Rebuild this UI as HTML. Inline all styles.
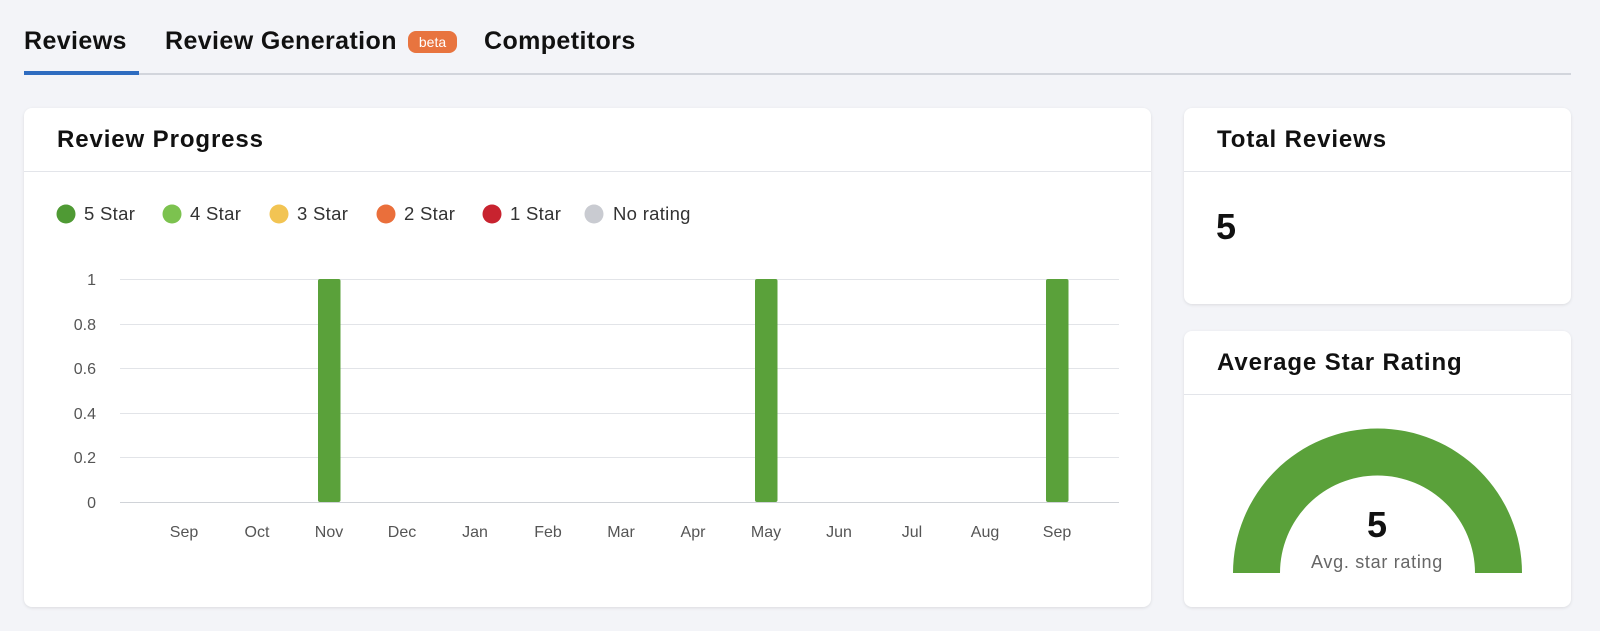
<!DOCTYPE html>
<html><head><meta charset="utf-8"><style>
*{margin:0;padding:0;box-sizing:border-box}
body{width:1600px;height:631px;background:#f3f4f8;font-family:"Liberation Sans",Arial,sans-serif;color:#111;position:relative;overflow:hidden}
.a{position:absolute}
.tab{font-size:25px;font-weight:600;top:27px;letter-spacing:0.4px}
.card{position:absolute;background:#fff;border-radius:8px;box-shadow:0 1px 3px rgba(0,0,0,0.1)}
.hl{position:absolute;left:0;right:0;height:1px;background:#e3e5ea}
.ttl{position:absolute;left:33px;font-size:24px;font-weight:700;letter-spacing:0.9px}
</style></head><body>
<div class="a tab" style="left:24px">Reviews</div>
<div class="a tab" style="left:165px">Review Generation</div>
<div class="a" style="left:408px;top:31px;width:49px;height:22px;border-radius:8px;background:#e8743f;color:#fff;font-size:14px;text-align:center;line-height:22px">beta</div>
<div class="a tab" style="left:484px">Competitors</div>
<div class="a" style="left:24px;top:73px;width:1547px;height:2px;background:#d2d5dc"></div>
<div class="a" style="left:24px;top:71px;width:115px;height:4px;background:#2e6cc0"></div>

<div class="card" style="left:24px;top:108px;width:1127px;height:499px">
<div class="ttl" style="top:18px">Review Progress</div>
<div class="hl" style="top:63px"></div>
</div>
<svg class="a" style="left:0;top:0" width="1600" height="631">
<g font-size="18.5" fill="#333" font-family="Liberation Sans,Arial,sans-serif" letter-spacing="0.3">
<circle cx="66" cy="214" r="9.5" fill="#4f9a34"/><text x="84" y="220">5 Star</text>
<circle cx="172" cy="214" r="9.5" fill="#7cc24f"/><text x="190" y="220">4 Star</text>
<circle cx="279" cy="214" r="9.5" fill="#f2c453"/><text x="297" y="220">3 Star</text>
<circle cx="386" cy="214" r="9.5" fill="#ea6f3b"/><text x="404" y="220">2 Star</text>
<circle cx="492" cy="214" r="9.5" fill="#c8232f"/><text x="510" y="220">1 Star</text>
<circle cx="594" cy="214" r="9.5" fill="#c9cbd1"/><text x="613" y="220">No rating</text>
</g>
<g stroke="#e2e4e8" stroke-width="1">
<line x1="120" x2="1119" y1="279.5" y2="279.5"/><line x1="120" x2="1119" y1="324.5" y2="324.5"/>
<line x1="120" x2="1119" y1="368.5" y2="368.5"/><line x1="120" x2="1119" y1="413.5" y2="413.5"/>
<line x1="120" x2="1119" y1="457.5" y2="457.5"/><line x1="120" x2="1119" y1="502.5" y2="502.5" stroke="#d0d3d8"/>
</g>
<g font-size="16" fill="#555" text-anchor="end" font-family="Liberation Sans,Arial,sans-serif">
<text x="96" y="285">1</text><text x="96" y="330">0.8</text><text x="96" y="374">0.6</text>
<text x="96" y="419">0.4</text><text x="96" y="463">0.2</text><text x="96" y="508">0</text>
</g>
<g font-size="16" fill="#555" text-anchor="middle" font-family="Liberation Sans,Arial,sans-serif">
<text x="184" y="537">Sep</text><text x="257" y="537">Oct</text><text x="329" y="537">Nov</text>
<text x="402" y="537">Dec</text><text x="475" y="537">Jan</text><text x="548" y="537">Feb</text>
<text x="621" y="537">Mar</text><text x="693" y="537">Apr</text><text x="766" y="537">May</text>
<text x="839" y="537">Jun</text><text x="912" y="537">Jul</text><text x="985" y="537">Aug</text>
<text x="1057" y="537">Sep</text>
</g>
<g fill="#5aa13a">
<rect x="318" y="279" width="22.5" height="223" rx="2"/>
<rect x="755" y="279" width="22.5" height="223" rx="2"/>
<rect x="1046" y="279" width="22.5" height="223" rx="2"/>
</g>
</svg>

<div class="card" style="left:1184px;top:108px;width:387px;height:196px">
<div class="ttl" style="top:18px">Total Reviews</div>
<div class="hl" style="top:63px"></div>
<div class="a" style="left:32px;top:98px;font-size:36px;font-weight:700">5</div>
</div>
<div class="card" style="left:1184px;top:331px;width:387px;height:276px">
<div class="ttl" style="top:18px">Average Star Rating</div>
<div class="hl" style="top:63px"></div>
</div>
<svg class="a" style="left:0;top:0" width="1600" height="631">
<path d="M1233 573 A144.5 144.5 0 0 1 1522 573 L1475 573 A97.5 97.5 0 0 0 1280 573 Z" fill="#5aa13a"/>
<text x="1377" y="537" text-anchor="middle" font-size="36" font-weight="700" fill="#111" font-family="Liberation Sans,Arial,sans-serif">5</text>
<text x="1377" y="568" text-anchor="middle" font-size="18" letter-spacing="0.7" fill="#666" font-family="Liberation Sans,Arial,sans-serif">Avg. star rating</text>
</svg>
</body></html>
